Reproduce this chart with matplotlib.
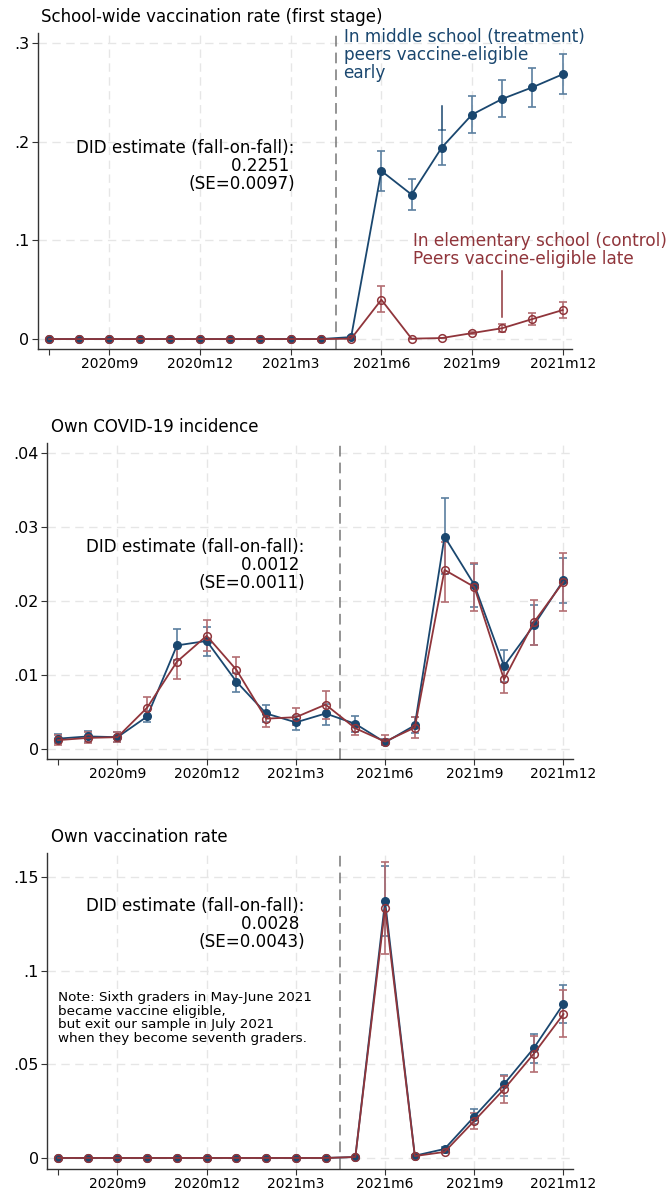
import matplotlib
matplotlib.use("Agg")
import matplotlib.pyplot as plt
import numpy as np

# ---------------- data ----------------
months = list(range(18))  # 2020m7 ... 2021m12
tick_pos = [0, 2, 5, 8, 11, 14, 17]
tick_labels = ["", "2020m9", "2020m12", "2021m3", "2021m6", "2021m9", "2021m12"]

# Panel 1: school-wide vaccination rate (first stage)
p1_treat = [0, 0, 0, 0, 0, 0, 0, 0, 0, 0, 0.002, 0.1706, 0.1466, 0.1943, 0.2277, 0.2436, 0.2554, 0.2686]
p1_treat_lo = [0, 0, 0, 0, 0, 0, 0, 0, 0, 0, 0.001, 0.150, 0.131, 0.1767, 0.2095, 0.225, 0.2358, 0.249]
p1_treat_hi = [0, 0, 0, 0, 0, 0, 0, 0, 0, 0, 0.003, 0.191, 0.1625, 0.212, 0.2463, 0.2628, 0.2747, 0.2889]
p1_ctrl = [0, 0, 0, 0, 0, 0, 0, 0, 0, 0, 0.0003, 0.0399, 0.0004, 0.001, 0.006, 0.011, 0.0203, 0.0294]
p1_ctrl_lo = [0, 0, 0, 0, 0, 0, 0, 0, 0, 0, 0.0002, 0.0274, 0.0003, 0.0008, 0.0052, 0.0074, 0.0142, 0.0213]
p1_ctrl_hi = [0, 0, 0, 0, 0, 0, 0, 0, 0, 0, 0.0004, 0.0537, 0.0005, 0.0012, 0.0068, 0.0149, 0.0264, 0.0378]

# Panel 2: own COVID-19 incidence
p2_treat = [0.0014, 0.0017, 0.0016, 0.0044, 0.0140, 0.0146, 0.0091, 0.0048, 0.0036, 0.0048,
            0.0034, 0.0009, 0.0032, 0.0287, 0.0222, 0.0112, 0.0167, 0.0228]
p2_treat_lo = [0.0008, 0.0010, 0.0009, 0.0036, 0.0120, 0.0126, 0.0077, 0.0037, 0.0026, 0.0033,
               0.0023, 0.0005, 0.0021, 0.0236, 0.0192, 0.0090, 0.0141, 0.0197]
p2_treat_hi = [0.0020, 0.0024, 0.0023, 0.0051, 0.0162, 0.0165, 0.0103, 0.0060, 0.0044, 0.0061,
               0.0045, 0.0014, 0.0043, 0.0339, 0.0250, 0.0134, 0.0194, 0.0258]
p2_ctrl = [0.0012, 0.0015, 0.0016, 0.0056, 0.0118, 0.0153, 0.0107, 0.0041, 0.0043, 0.0060,
           0.0028, 0.0010, 0.0029, 0.0242, 0.0219, 0.0094, 0.0171, 0.0226]
p2_ctrl_lo = [0.0005, 0.0008, 0.0009, 0.0041, 0.0095, 0.0132, 0.0088, 0.0030, 0.0032, 0.0040,
              0.0019, 0.0005, 0.0015, 0.0198, 0.0187, 0.0076, 0.0140, 0.0186]
p2_ctrl_hi = [0.0019, 0.0023, 0.0023, 0.0070, 0.0138, 0.0174, 0.0125, 0.0050, 0.0055, 0.0079,
              0.0034, 0.0019, 0.0043, 0.0280, 0.0251, 0.0111, 0.0201, 0.0265]

# Panel 3: own vaccination rate
p3_treat = [0, 0, 0, 0, 0, 0, 0, 0, 0, 0, 0.0005, 0.137, 0.0012, 0.0048, 0.0221, 0.0394, 0.0586, 0.0823]
p3_treat_lo = [0, 0, 0, 0, 0, 0, 0, 0, 0, 0, 0.0004, 0.1183, 0.0009, 0.0040, 0.0182, 0.0331, 0.0506, 0.0723]
p3_treat_hi = [0, 0, 0, 0, 0, 0, 0, 0, 0, 0, 0.0006, 0.1557, 0.0015, 0.0056, 0.0260, 0.0445, 0.0663, 0.0924]
p3_ctrl = [0, 0, 0, 0, 0, 0, 0, 0, 0, 0, 0.0005, 0.1334, 0.0010, 0.0032, 0.0198, 0.0367, 0.0556, 0.0768]
p3_ctrl_lo = [0, 0, 0, 0, 0, 0, 0, 0, 0, 0, 0.0004, 0.109, 0.0007, 0.0026, 0.0153, 0.0296, 0.0461, 0.0645]
p3_ctrl_hi = [0, 0, 0, 0, 0, 0, 0, 0, 0, 0, 0.0006, 0.1578, 0.0013, 0.0038, 0.0239, 0.0438, 0.0652, 0.0894]

titles = ["School-wide vaccination rate (first stage)", "Own COVID-19 incidence", "Own vaccination rate"]
did_texts = ["DID estimate (fall-on-fall):\n0.2251 \n(SE=0.0097)",
             "DID estimate (fall-on-fall):\n0.0012 \n(SE=0.0011)",
             "DID estimate (fall-on-fall):\n0.0028 \n(SE=0.0043)"]
yticks = [[0, 0.1, 0.2, 0.3], [0, 0.01, 0.02, 0.03, 0.04], [0, 0.05, 0.1, 0.15]]
yticklabels = [["0", ".1", ".2", ".3"], ["0", ".01", ".02", ".03", ".04"], ["0", ".05", ".1", ".15"]]
ylims = [(-0.0101, 0.3105), (-0.00135, 0.04135), (-0.0059, 0.1628)]
treat_label = "In middle school (treatment)\npeers vaccine-eligible\nearly"
ctrl_label = "In elementary school (control)\nPeers vaccine-eligible late"
note_text = ("Note: Sixth graders in May-June 2021\nbecame vaccine eligible,\n"
             "but exit our sample in July 2021\nwhen they become seventh graders.")

BLUE = "#1a476f"
RED = "#90353b"
BLUE_EB = "#5b7f9f"
RED_EB = "#b36d72"

W, H = 667, 1194
fig = plt.figure(figsize=(W / 100, H / 100), dpi=100)
fig.patch.set_facecolor("white")

# axes boxes in pixels: left, top, right, bottom
boxes = [(37.5, 33, 572, 349), (47, 443, 573, 759), (47, 853, 573, 1169)]
xlims = [(-0.38, 17.31), (-0.37, 17.32), (-0.37, 17.32)]
title_x = [0.006, 0.007, 0.007]

series = [
    (p1_treat, p1_treat_lo, p1_treat_hi, p1_ctrl, p1_ctrl_lo, p1_ctrl_hi),
    (p2_treat, p2_treat_lo, p2_treat_hi, p2_ctrl, p2_ctrl_lo, p2_ctrl_hi),
    (p3_treat, p3_treat_lo, p3_treat_hi, p3_ctrl, p3_ctrl_lo, p3_ctrl_hi),
]
did_pos = [(8.13, 0.1755), (8.3, 0.02486), (8.3, 0.1249)]

x = np.array(months)
for i, (l, t, r, b) in enumerate(boxes):
    ax = fig.add_axes([l / W, 1 - b / H, (r - l) / W, (b - t) / H])
    tr, tlo, thi, cr, clo, chi = [np.array(s) for s in series[i]]
    ax.set_xlim(*xlims[i])
    ax.set_ylim(*ylims[i])

    # grid
    for yv in yticks[i]:
        ax.axhline(yv, color="#e6e6e6", lw=1.0, ls=(0, (6, 4)), zorder=0)
    for xv in tick_pos[1:]:
        ax.axvline(xv, color="#e6e6e6", lw=1.0, ls=(0, (6, 4)), zorder=0)

    ax.axvline(9.5, color="#777777", lw=1.1, ls=(0, (7, 4)), zorder=1)

    # error bars
    ax.errorbar(x, tr, yerr=[tr - tlo, thi - tr], fmt="none", ecolor=BLUE_EB,
                elinewidth=1.2, capsize=3, capthick=1.2, zorder=2)
    ax.errorbar(x, cr, yerr=[cr - clo, chi - cr], fmt="none", ecolor=RED_EB,
                elinewidth=1.2, capsize=3, capthick=1.2, zorder=2)
    ax.plot(x, tr, color=BLUE, lw=1.3, marker="o", ms=5.5, mfc=BLUE, mec=BLUE, zorder=3)
    ax.plot(x, cr, color=RED, lw=1.3, marker="o", ms=5.5, mfc="none", mec=RED, mew=1.1, zorder=4)

    ax.set_xticks(tick_pos)
    ax.set_xticklabels(tick_labels, fontsize=10)
    ax.set_yticks(yticks[i])
    ax.set_yticklabels(yticklabels[i], fontsize=11.5)
    ax.tick_params(axis="both", direction="out", length=4, width=0.8, color="#333333", pad=2)
    for s in ["top", "right"]:
        ax.spines[s].set_visible(False)
    for s in ["left", "bottom"]:
        ax.spines[s].set_color("#333333")
        ax.spines[s].set_linewidth(1.0)

    ax.set_title(titles[i], loc="left", fontsize=12, pad=8, x=title_x[i])

    ax.text(did_pos[i][0], did_pos[i][1], did_texts[i], ha="right", va="center",
            multialignment="right", fontsize=12.1, linespacing=1.0, color="black")

    if i == 0:
        ax.text(9.75, 0.288, treat_label, ha="left", va="center", fontsize=12.2,
                linespacing=1.0, color=BLUE, clip_on=False)
        ax.text(12.05, 0.0903, ctrl_label, ha="left", va="center", fontsize=12.2,
                linespacing=1.0, color=RED, clip_on=False)
        ax.plot([15, 15], [0.0694, 0.0224], color=RED, lw=1.1, zorder=3)
        ax.plot([13, 13], [0.236, 0.212], color=BLUE, lw=1.1, zorder=3)
    if i == 2:
        ax.text(0.0, 0.0747, note_text, ha="left", va="center", fontsize=9.7,
                linespacing=1.05, color="black")

fig.savefig("out.png", dpi=100, facecolor="white")
